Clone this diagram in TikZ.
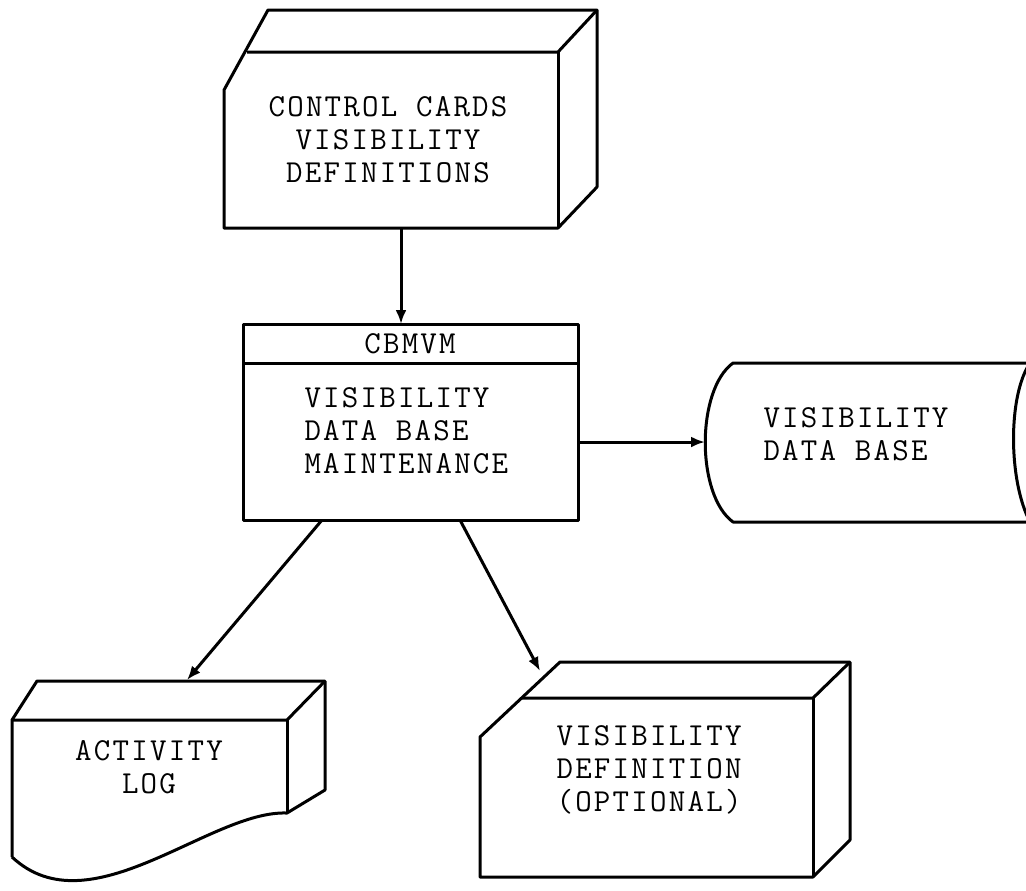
\documentclass[tikz,border=0pt]{standalone}
\usepackage{fontspec}
\newfontfamily\typefont[LetterSpace=7]{Latin Modern Mono}
\usetikzlibrary{arrows.meta}
\begin{document}
\begin{tikzpicture}[x=0.5pt,y=-0.5pt,line width=1.5pt,line join=round,
  txt/.style={font=\typefont\fontsize{16}{16.5}\selectfont,align=center,inner sep=0pt},
  flow/.style={-{Latex[length=7pt,width=5.5pt]}}]
  \useasboundingbox (0,0) rectangle (1026,890);
  % Control cards - punched card box
  \draw (224,228) -- (224,90) -- (268,10) -- (597,10) -- (597,187) -- (558,228) -- cycle;
  \draw (247,52) -- (558,52) -- (597,10);
  \draw (558,52) -- (558,228);
  \node[txt] (cards) at (388,140) {CONTROL CARDS\\VISIBILITY\\DEFINITIONS};
  % CBMVM - process box
  \draw (243,324) rectangle (578,520);
  \draw (243,363) -- (578,363);
  \node[txt] (cbmvm) at (410,344) {CBMVM};
  \node[txt,align=left,anchor=west] (maint) at (303,431) {VISIBILITY\\DATA BASE\\MAINTENANCE};
  % Data base - stored data
  \draw (1040,363) -- (733,363) .. controls (696,390) and (696,495) .. (733,522) -- (1040,522);
  \draw (1030,363) .. controls (1008,395) and (1008,480) .. (1030,522);
  \node[txt,align=left,anchor=west] (dbase) at (762,434) {VISIBILITY\\DATA BASE};
  % Activity log - document box
  \draw (12,857) -- (12,720) -- (37,681) -- (325,681) -- (325,790) -- (287,813)
    .. controls (210,810) and (90,930) .. (12,857);
  \draw (12,720) -- (287,720) -- (325,681);
  \draw (287,720) -- (287,813);
  \node[txt] (actlog) at (149,767) {ACTIVITY\\LOG};
  % Visibility definition - card box
  \draw (480,877) -- (480,737) -- (560,662) -- (850,662) -- (850,840) -- (813,877) -- cycle;
  \draw (522,698) -- (813,698) -- (850,662);
  \draw (813,698) -- (813,877);
  \node[txt] (visdef) at (649,770) {VISIBILITY\\DEFINITION\\(OPTIONAL)};
  % Connector ends
  \coordinate (cardsout) at (401,228);
  \coordinate (cbmvmin) at (401,324);
  \coordinate (cbmvmout) at (578,442);
  \coordinate (dbasein) at (705,442);
  \coordinate (logout) at (322,520);
  \coordinate (login) at (187,680);
  \coordinate (defout) at (460,520);
  \coordinate (defin) at (540,671);
  \draw[flow] (cardsout) -- (cbmvmin);
  \draw[flow] (cbmvmout) -- (dbasein);
  \draw[flow] (logout) -- (login);
  \draw[flow] (defout) -- (defin);
\end{tikzpicture}
\end{document}
